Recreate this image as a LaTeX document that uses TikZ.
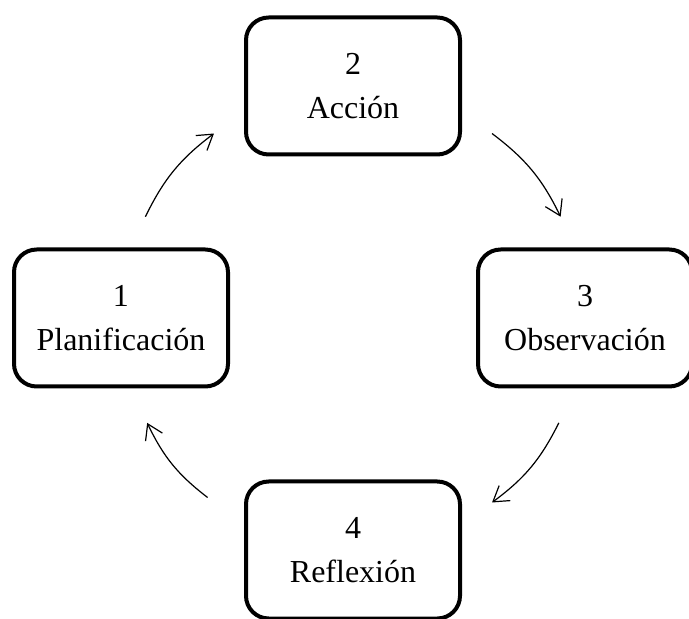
\documentclass[tikz,border=0pt]{standalone}
\usepackage{fontspec}
\setmainfont{Liberation Serif}
\usetikzlibrary{arrows.meta}
\tikzset{
  cycleBox/.style={draw, line width=3pt, rounded corners=17pt, align=center, inner sep=0pt,
    minimum width=160.5pt, minimum height=102.75pt, font=\fontsize{24}{33}\selectfont},
  cycleArrow/.style={-{Straight Barb[length=11pt, width=14pt]}, line width=0.9pt}
}

\begin{document}
\begin{tikzpicture}[x=0.75pt, y=0.75pt]
  \useasboundingbox (0,0) rectangle (689,618);
  \coordinate (mid) at (353,300);
  \node[cycleBox] (plan) at ([shift={(180:232)}]mid) {1\\Planificación};
  \node[cycleBox] (acc) at ([shift={(90:232)}]mid) {2\\Acción};
  \node[cycleBox] (obs) at ([shift={(0:232)}]mid) {3\\Observación};
  \node[cycleBox] (refl) at ([shift={(-90:232)}]mid) {4\\Reflexión};
  % arrows along the circle
  \foreach \s/\e [count=\i] in {154/127,53/26,-27/-53,-129/-153} {
    \coordinate (from\i) at ([shift={(\s:231)}]mid);
    \coordinate (to\i) at ([shift={(\e:231)}]mid);
    \draw[cycleArrow] (from\i) to[bend left=13.5] (to\i);
  }
\end{tikzpicture}
\end{document}
